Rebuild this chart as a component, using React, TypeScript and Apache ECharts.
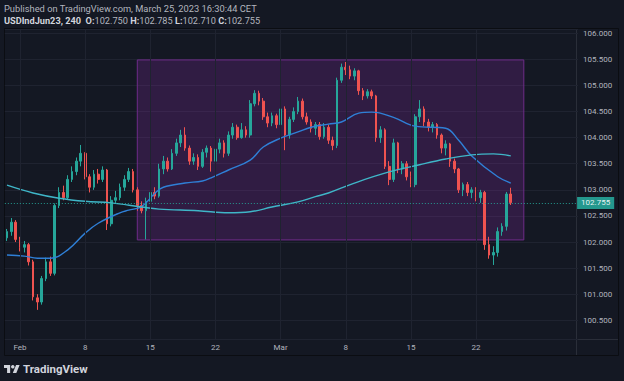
import React, { useEffect, useRef } from 'react';
import * as echarts from 'echarts';

// ---- data ----
const tradingDays = [
  'Jan 31', 'Feb 1', 'Feb 2', 'Feb 3', 'Feb 6', 'Feb 7', 'Feb 8', 'Feb 9', 'Feb 10',
  'Feb 13', 'Feb 14', 'Feb 15', 'Feb 16', 'Feb 17', 'Feb 20', 'Feb 21', 'Feb 22', 'Feb 23', 'Feb 24',
  'Feb 27', 'Feb 28', 'Mar 1', 'Mar 2', 'Mar 3', 'Mar 6', 'Mar 7', 'Mar 8', 'Mar 9', 'Mar 10',
  'Mar 13', 'Mar 14', 'Mar 15', 'Mar 16', 'Mar 17', 'Mar 20', 'Mar 21', 'Mar 22', 'Mar 23', 'Mar 24',
  'Mar 27', 'Mar 28', 'Mar 29', 'Mar 30', 'Mar 31',
];
const sessions = ['00:00', '08:00', '16:00'];
const tickDays = ['Feb 1', 'Feb 8', 'Feb 15', 'Feb 22', 'Mar 1', 'Mar 8', 'Mar 15', 'Mar 22'];
const tickTexts = ['Feb', '8', '15', '22', 'Mar', '8', '15', '22'];

// [open, close, low, high]
const ohlc = [
  [102.08, 102.20, 102.02, 102.25], [102.20, 102.38, 102.12, 102.46], [102.38, 102.05, 102.00, 102.42],
  [102.05, 101.90, 101.82, 102.10], [101.90, 101.95, 101.80, 102.02], [101.95, 101.62, 101.55, 101.98],
  [101.62, 100.95, 100.88, 101.66], [100.93, 100.85, 100.70, 101.00], [100.85, 101.30, 100.80, 101.35],
  [101.30, 101.62, 101.25, 101.70], [101.62, 101.40, 101.35, 101.72], [101.40, 102.70, 101.36, 102.74],
  [102.70, 102.95, 102.65, 103.05], [102.95, 102.85, 102.80, 103.08], [102.85, 103.20, 102.82, 103.28],
  [103.20, 103.35, 103.15, 103.45], [103.35, 103.55, 103.28, 103.62], [103.55, 103.70, 103.45, 103.86],
  [103.70, 103.25, 103.20, 103.72], [103.25, 103.05, 102.95, 103.30], [103.05, 103.30, 103.00, 103.38],
  [103.30, 103.20, 103.12, 103.40], [103.20, 103.38, 103.15, 103.45], [103.38, 102.35, 102.23, 103.40],
  [102.35, 102.80, 102.30, 102.88], [102.80, 102.85, 102.75, 102.98], [102.85, 103.05, 102.80, 103.12],
  [103.05, 103.20, 102.98, 103.28], [103.20, 103.35, 103.15, 103.42], [103.35, 103.00, 102.95, 103.40],
  [103.00, 102.70, 102.60, 103.05], [102.70, 102.60, 102.55, 102.78], [102.60, 102.78, 102.05, 102.85],
  [102.78, 102.95, 102.72, 103.02], [102.95, 102.88, 102.82, 103.05], [102.88, 103.40, 102.85, 103.50],
  [103.40, 103.55, 103.30, 103.65], [103.55, 103.40, 103.35, 103.62], [103.40, 103.70, 103.38, 103.78],
  [103.70, 103.90, 103.65, 103.98], [103.90, 104.05, 103.82, 104.15], [104.05, 103.80, 103.75, 104.20],
  [103.80, 103.55, 103.48, 103.85], [103.55, 103.62, 103.48, 103.70], [103.62, 103.45, 103.38, 103.68],
  [103.45, 103.72, 103.42, 103.78], [103.72, 103.80, 103.62, 103.85], [103.80, 103.55, 103.35, 103.84],
  [103.55, 103.78, 103.50, 103.86], [103.78, 103.90, 103.70, 103.98], [103.90, 103.70, 103.62, 103.95],
  [103.70, 104.05, 103.65, 104.12], [104.05, 104.20, 103.98, 104.28], [104.20, 104.00, 103.96, 104.25],
  [104.00, 104.15, 103.98, 104.28], [104.15, 104.05, 104.00, 104.22], [104.05, 104.65, 104.00, 104.72],
  [104.65, 104.85, 104.60, 104.91], [104.85, 104.70, 104.62, 104.90], [104.70, 104.40, 104.34, 104.76],
  [104.40, 104.28, 104.20, 104.48], [104.28, 104.42, 104.22, 104.48], [104.42, 104.25, 104.18, 104.46],
  [104.25, 104.55, 104.20, 104.65], [104.55, 104.05, 103.76, 104.60], [104.05, 104.35, 103.98, 104.40],
  [104.35, 104.50, 104.30, 104.58], [104.50, 104.70, 104.45, 104.78], [104.70, 104.40, 104.35, 104.75],
  [104.40, 104.30, 104.25, 104.48], [104.30, 104.18, 104.10, 104.35], [104.18, 104.25, 104.05, 104.30],
  [104.25, 104.02, 103.96, 104.30], [104.02, 104.20, 103.98, 104.28], [104.20, 103.95, 103.88, 104.25],
  [103.95, 103.85, 103.76, 104.02], [103.85, 105.10, 103.80, 105.15], [105.10, 105.35, 105.05, 105.42],
  [105.35, 105.30, 105.20, 105.45], [105.30, 105.18, 105.12, 105.38], [105.18, 105.28, 105.10, 105.33],
  [105.28, 104.90, 104.82, 105.30], [104.90, 104.80, 104.72, 104.95], [104.80, 104.88, 104.75, 104.93],
  [104.88, 104.80, 104.74, 104.92], [104.80, 104.00, 103.92, 104.82], [104.00, 104.15, 103.90, 104.22],
  [104.15, 103.45, 103.40, 104.18], [103.45, 103.20, 103.09, 103.55], [103.20, 103.90, 103.15, 103.98],
  [103.90, 103.40, 103.32, 103.92], [103.40, 103.50, 103.30, 103.55], [103.50, 103.25, 103.18, 103.55],
  [103.25, 103.10, 103.05, 103.35], [103.10, 104.40, 103.05, 104.45], [104.40, 104.55, 104.30, 104.72],
  [104.55, 104.30, 104.22, 104.60], [104.30, 104.20, 104.12, 104.36], [104.20, 104.25, 104.10, 104.30],
  [104.25, 104.05, 103.98, 104.28], [104.05, 103.80, 103.70, 104.08], [103.80, 103.88, 103.66, 103.95],
  [103.88, 103.55, 103.44, 103.90], [103.55, 103.40, 103.32, 103.60], [103.40, 103.00, 102.94, 103.42],
  [103.00, 103.10, 102.88, 103.14], [103.10, 102.95, 102.88, 103.15], [102.95, 103.00, 102.84, 103.05],
  [103.00, 102.85, 102.78, 103.05], [102.85, 102.95, 102.75, 103.00], [102.95, 101.95, 101.85, 102.98],
  [101.95, 101.75, 101.68, 102.10], [101.75, 101.80, 101.56, 101.92], [101.80, 102.20, 101.72, 102.28],
  [102.20, 102.30, 102.12, 102.36], [102.30, 102.92, 102.22, 102.96], [102.92, 102.755, 102.71, 103.04],
];

// moving averages: [bar index, value]
const fastMA = [
  [0, 101.75], [4, 101.73], [7, 101.69], [10, 101.69], [14, 101.85], [18, 102.17], [21, 102.36],
  [26, 102.56], [28, 102.61], [31, 102.68], [34, 102.93], [36, 103.05], [41, 103.13], [45, 103.17],
  [47, 103.23], [51, 103.38], [56, 103.57], [59, 103.82], [63, 103.99], [67, 104.11], [70, 104.20],
  [74, 104.26], [77, 104.30], [81, 104.47], [84, 104.49], [89, 104.39], [94, 104.22], [101, 104.18],
  [104, 103.95], [107, 103.65], [113, 103.25], [116, 103.13],
];
const slowMA = [
  [0, 103.09], [6, 102.94], [12, 102.84], [18, 102.78], [24, 102.75], [31, 102.67], [35, 102.63],
  [44, 102.60], [51, 102.56], [56, 102.58], [61, 102.67], [67, 102.77], [71, 102.87], [74, 102.94],
  [80, 103.13], [87, 103.32], [95, 103.48], [101, 103.59], [107, 103.67], [112, 103.69], [116, 103.65],
];

const lastPrice = 102.755;
const boxStart = 30;
const boxEnd = 119;
const boxHigh = 105.49;
const boxLow = 102.04;

const headerLine1 = 'Published on TradingView.com, March 25, 2023 16:30:44 CET';
const symbolName = 'USDIndJun23, 240';
const headerOHLC = [['O:', '102.750'], ['H:', '102.785'], ['L:', '102.710'], ['C:', '102.755']];

// ---- helpers ----
const categories = tradingDays.flatMap((d) => sessions.map((s) => `${d} ${s}`));
const labelAt = new Map<number, string>();
tickDays.forEach((d, k) => {
  labelAt.set(tradingDays.indexOf(d) * sessions.length, tickTexts[k]);
});
const tickIdx = Array.from(labelAt.keys());

echarts.graphic.registerShape(
  'tvlogo',
  echarts.graphic.extendPath('M14 22H7V11H0V4h14v18zM28 22h-8l7.5-18h8L28 22z', {})
);

const FONT = 'Roboto, "Noto Sans", sans-serif';
const TXT = '#b2b5be';
const GRIDC = '#1f2330';

export default function App() {
  const ref = useRef<HTMLDivElement>(null);
  useEffect(() => {
    if (!ref.current) return;
    const chart = echarts.init(ref.current, undefined, { renderer: 'svg' });
    const headerRich =
      `{b|${symbolName}}  ` + headerOHLC.map(([k, v]) => `{b|${k}}{v|${v}}`).join(' ');
    chart.setOption({
      animation: false,
      backgroundColor: '#141823',
      grid: { left: 4.83, right: 45.9, top: 29, bottom: 42 },
      xAxis: {
        type: 'category',
        data: categories,
        boundaryGap: true,
        axisLine: { show: false },
        axisTick: { show: false },
        splitLine: { show: false },
        axisLabel: {
          interval: (i: number) => labelAt.has(i),
          formatter: (_v: string, i: number) => labelAt.get(i) ?? '',
          color: TXT,
          fontSize: 8,
          fontFamily: FONT,
          margin: 4,
        },
      },
      yAxis: {
        type: 'value',
        position: 'right',
        min: 100.1414,
        max: 106.0824,
        splitNumber: 12,
        minInterval: 0.5,
        maxInterval: 0.5,
        axisLine: { show: false },
        axisTick: { show: false },
        splitLine: { lineStyle: { color: GRIDC, width: 1 } },
        axisLabel: {
          formatter: (v: number) => v.toFixed(3),
          color: TXT,
          fontSize: 8,
          fontFamily: FONT,
          margin: 5,
          showMinLabel: false,
          showMaxLabel: false,
        },
      },
      series: [
        {
          type: 'line',
          data: [],
          z: 1,
          silent: true,
          markArea: {
            silent: true,
            itemStyle: { color: 'rgba(150,45,180,0.22)', borderColor: '#6f2c8a', borderWidth: 1 },
            data: [[{ xAxis: boxStart, yAxis: boxHigh }, { xAxis: boxEnd, yAxis: boxLow }]],
          },
          markLine: {
            silent: true,
            symbol: ['none', 'none'],
            label: { show: false },
            lineStyle: { color: GRIDC, type: 'solid', width: 1 },
            data: tickIdx.map((i) => ({ xAxis: i })),
          },
        },
        {
          type: 'candlestick',
          data: ohlc,
          z: 2,
          barWidth: '50%',
          itemStyle: {
            color: '#26a69a',
            color0: '#ef5350',
            borderColor: '#26a69a',
            borderColor0: '#ef5350',
            borderWidth: 1,
          },
          markLine: {
            silent: true,
            symbol: ['none', 'none'],
            data: [{ yAxis: lastPrice }],
            lineStyle: { color: '#26a69a', type: [1, 2], width: 1, opacity: 0.9 },
            label: {
              show: true,
              position: 'end',
              formatter: lastPrice.toFixed(3),
              backgroundColor: '#26a69a',
              color: '#ffffff',
              fontSize: 8,
              fontFamily: FONT,
              padding: [2, 4, 2, 4],
              distance: -1,
            },
          },
        },
        {
          type: 'line',
          data: fastMA,
          z: 3,
          showSymbol: false,
          smooth: 0.4,
          silent: true,
          lineStyle: { color: '#2f7fd6', width: 1.4 },
        },
        {
          type: 'line',
          data: slowMA,
          z: 3,
          showSymbol: false,
          smooth: 0.4,
          silent: true,
          lineStyle: { color: '#3fb6c8', width: 1.4 },
        },
      ],
      graphic: [
        {
          type: 'rect',
          silent: true,
          shape: { x: 4.5, y: 28.5, width: 614, height: 327 },
          style: { fill: 'none', stroke: '#0b0d12', lineWidth: 1 },
        },
        {
          type: 'line',
          silent: true,
          shape: { x1: 576.5, y1: 29, x2: 576.5, y2: 355 },
          style: { stroke: '#2a2e39', lineWidth: 1 },
        },
        {
          type: 'line',
          silent: true,
          shape: { x1: 5, y1: 339.5, x2: 618, y2: 339.5 },
          style: { stroke: '#2a2e39', lineWidth: 1 },
        },
        {
          type: 'text',
          silent: true,
          x: 4,
          y: 8,
          style: {
            text: headerLine1,
            fill: TXT,
            fontSize: 9.3,
            fontFamily: FONT,
            verticalAlign: 'middle',
          },
        },
        {
          type: 'text',
          silent: true,
          x: 4,
          y: 20,
          style: {
            text: headerRich,
            verticalAlign: 'middle',
            fontSize: 9.2,
            fontFamily: FONT,
            fill: TXT,
            rich: {
              b: { fill: '#d1d4dc', fontWeight: 'bold', fontSize: 9.2, fontFamily: FONT },
              v: { fill: TXT, fontSize: 9.2, fontFamily: FONT },
            },
          },
        },
        {
          type: 'tvlogo',
          silent: true,
          x: 4,
          y: 363.2,
          scaleX: 0.44,
          scaleY: 0.44,
          style: { fill: '#d1d4dc' },
        },
        {
          type: 'circle',
          silent: true,
          shape: { cx: 12.8, cy: 366.7, r: 1.76 },
          style: { fill: '#d1d4dc' },
        },
        {
          type: 'text',
          silent: true,
          x: 23,
          y: 369,
          style: {
            text: 'TradingView',
            fill: '#d1d4dc',
            fontSize: 11.5,
            fontWeight: 'bold',
            fontFamily: FONT,
            verticalAlign: 'middle',
          },
        },
      ],
    });
    return () => chart.dispose();
  }, []);
  return <div ref={ref} style={{ position: 'fixed', left: 0, top: 0, width: 624, height: 381 }} />;
}
